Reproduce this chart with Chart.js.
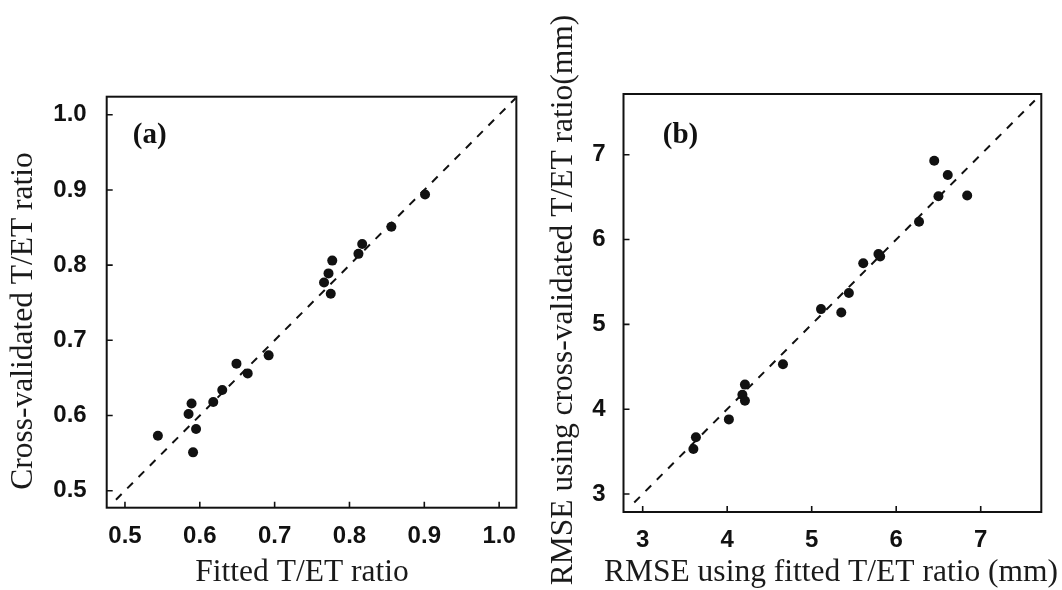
<!DOCTYPE html>
<html><head><meta charset="utf-8">
<script src="https://cdn.jsdelivr.net/npm/chart.js@4.4.1/dist/chart.umd.min.js"></script>
<style>
html,body{margin:0;padding:0;background:#fff;width:1062px;height:590px;overflow:hidden}
canvas{position:absolute;top:0}
#ca{left:0}
#cb{left:531px}
</style></head><body>
<canvas id="ca" width="531" height="590" style="width:531px;height:590px"></canvas>
<canvas id="cb" width="531" height="590" style="width:531px;height:590px"></canvas>
<script>
// Panel (a): fitted vs cross-validated T/ET ratio
const fittedRatio = [0.544,0.585,0.589,0.595,0.591,0.618,0.630,0.649,0.664,0.692,0.766,0.772,0.777,0.775,0.812,0.817,0.856,0.901];
const cvRatio     = [0.573,0.602,0.616,0.582,0.551,0.618,0.634,0.669,0.656,0.680,0.777,0.789,0.806,0.762,0.815,0.828,0.851,0.894];
// Panel (b): RMSE (mm)
const rmseFitted = [3.60,3.63,4.02,4.18,4.21,4.21,4.66,5.11,5.35,5.44,5.61,5.79,5.81,6.27,6.45,6.61,6.50,6.84];
const rmseCv     = [3.53,3.67,3.88,4.17,4.29,4.10,4.53,5.18,5.14,5.37,5.72,5.83,5.80,6.21,6.93,6.76,6.51,6.52];
// tick values
const ticksA = [0.5,0.6,0.7,0.8,0.9,1.0];
const ticksB = [3,4,5,6,7];
// 1:1 reference line end points
const lineA = [0.488, 1.022];
const lineB = [2.90, 7.64];
// text
const titlesA = {x:'Fitted T/ET ratio', y:'Cross-validated T/ET ratio', panel:'(a)'};
const titlesB = {x:'RMSE using fitted T/ET ratio (mm)', y:'RMSE using cross-validated T/ET ratio(mm)', panel:'(b)'};

const TICK_FONT = {family:'"Liberation Sans", Arial, sans-serif', size:24, weight:'bold'};
const TITLE_FONT = '31.5px "Liberation Serif", "Times New Roman", serif';
const PANEL_FONT = 'bold 29px "Liberation Serif", "Times New Roman", serif';
const INK = '#111';

function framePlugin(cfg){
  return {
    id:'frame'+cfg.id,
    afterDraw(chart){
      const {ctx, chartArea:a, scales:{x, y}} = chart;
      ctx.save();
      ctx.strokeStyle = INK; ctx.lineWidth = 2;
      ctx.strokeRect(a.left, a.top, a.right - a.left, a.bottom - a.top);
      ctx.lineWidth = 1.6;
      ctx.beginPath();
      x.ticks.forEach(t => { const p = x.getPixelForValue(t.value); ctx.moveTo(p, a.bottom); ctx.lineTo(p, a.bottom - 6); });
      y.ticks.forEach(t => { const p = y.getPixelForValue(t.value); ctx.moveTo(a.left, p); ctx.lineTo(a.left + 6, p); });
      ctx.stroke();
      ctx.fillStyle = '#1a1a1a';
      ctx.font = TITLE_FONT;
      ctx.textAlign = 'center'; ctx.textBaseline = 'middle';
      ctx.fillText(cfg.titles.x, cfg.xt[0], cfg.xt[1]);
      ctx.save();
      ctx.translate(cfg.yt[0], cfg.yt[1]);
      ctx.rotate(-Math.PI/2);
      ctx.fillText(cfg.titles.y, 0, 0);
      ctx.restore();
      ctx.font = PANEL_FONT;
      ctx.fillStyle = INK;
      ctx.fillText(cfg.titles.panel, x.getPixelForValue(cfg.pl[0]), y.getPixelForValue(cfg.pl[1]));
      ctx.restore();
    }
  };
}

function makeChart(el, o){
  const pts = o.xs.map((v,i)=>({x:v, y:o.ys[i]}));
  const line = o.line.map(v=>({x:v, y:v}));
  return new Chart(document.getElementById(el), {
    type:'scatter',
    data:{datasets:[
      {data:pts, backgroundColor:INK, borderWidth:0, pointRadius:5, pointHoverRadius:5, order:0},
      {type:'line', data:line, showLine:true, borderColor:INK, borderWidth:2, borderDash:[8,8], pointRadius:0, fill:false, order:1}
    ]},
    options:{
      responsive:false, animation:false, events:[],
      layout:{padding:{top:o.pad.top, right:o.pad.right, left:0, bottom:0}},
      plugins:{legend:{display:false}, tooltip:{enabled:false}},
      scales:{
        x:{type:'linear', min:o.xr[0], max:o.xr[1],
           afterBuildTicks:s=>{s.ticks = o.ticks.map(v=>({value:v}));},
           afterFit:s=>{s.height = o.xh;},
           grid:{display:false, drawTicks:false}, border:{display:false},
           ticks:{font:TICK_FONT, color:INK, padding:o.xpad, maxRotation:0, autoSkip:false, callback:v=>o.fmt(v)}},
        y:{type:'linear', min:o.yr[0], max:o.yr[1],
           afterBuildTicks:s=>{s.ticks = o.ticks.map(v=>({value:v}));},
           afterFit:s=>{s.width = o.yw;},
           grid:{display:false, drawTicks:false}, border:{display:false},
           ticks:{font:TICK_FONT, color:INK, padding:o.ypad, autoSkip:false, callback:v=>o.fmt(v)}}
      }
    },
    plugins:[framePlugin(o.frame)]
  });
}

makeChart('ca', {
  xs:fittedRatio, ys:cvRatio, line:lineA, ticks:ticksA,
  xr:[0.4756,1.023], yr:[0.4774,1.024],
  pad:{top:96.7, right:13.7}, xh:82.3, yw:106.7, xpad:14.6, ypad:20,
  fmt:v=>Number(v).toFixed(1),
  frame:{id:'A', titles:titlesA, xt:[302,573], yt:[24,321], pl:[0.533,0.972]}
});
makeChart('cb', {
  xs:rmseFitted, ys:rmseCv, line:lineB, ticks:ticksB,
  xr:[2.773,7.717], yr:[2.788,7.716],
  pad:{top:94, right:20.7}, xh:78, yw:92.5, xpad:13.9, ypad:18,
  fmt:v=>String(Math.round(v)),
  frame:{id:'B', titles:titlesB, xt:[300,573], yt:[33,300], pl:[3.447,7.223]}
});
</script>
</body></html>
